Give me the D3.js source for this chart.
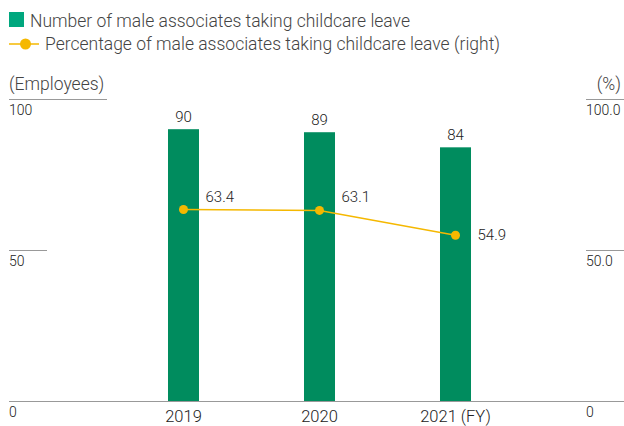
<!DOCTYPE html>
<html>
<head>
<meta charset="utf-8">
<script src="https://cdn.jsdelivr.net/npm/d3@7"></script>
<style>
  html, body { margin: 0; padding: 0; background: #fff; }
  svg { display: block; font-family: Roboto, "Noto Sans", sans-serif; }
</style>
</head>
<body>
<svg id="chart" width="624" height="426"></svg>
<script>
// Fiscal years shown on the x axis
const years = ["2019", "2020", "2021 (FY)"];
// Number of male associates taking childcare leave (left axis, employees)
const leaveCounts = [90, 89, 84];
// Percentage of male associates taking childcare leave (right axis, %)
const leaveRates = [63.4, 63.1, 54.9];
// Axis tick labels
const leftTicks = [0, 50, 100];
const rightTicks = [0, 50, 100];

const barColor = "#008c5e";
const legendBarColor = "#00a77e";
const lineColor = "#f5b800";
const textColor = "#222";
const legendText = "#444";
const ruleColor = "#999";
const weight = 300;

const svg = d3.select("#chart");
const W = 624;

const y = d3.scaleLinear().domain([0, 100]).range([401, 99]);
const yR = d3.scaleLinear().domain([0, 100]).range([401, 99]);
const x = d3.scaleBand().domain(years).range([115.5, 523.5])
  .paddingInner(0.772).paddingOuter(0.386);

// Legend
const lg = svg.append("g");
lg.append("rect").attr("x", 9).attr("y", 12).attr("width", 15).attr("height", 15)
  .attr("fill", legendBarColor);
lg.append("text").attr("x", 30).attr("y", 27).attr("font-size", 17.5)
  .attr("fill", legendText).attr("font-weight", weight)
  .text("Number of male associates taking childcare leave");
lg.append("line").attr("x1", 9).attr("x2", 39).attr("y1", 44).attr("y2", 44)
  .attr("stroke", lineColor).attr("stroke-width", 1.5);
lg.append("circle").attr("cx", 25.5).attr("cy", 44).attr("r", 5.5).attr("fill", lineColor);
lg.append("text").attr("x", 45).attr("y", 50).attr("font-size", 17.5)
  .attr("fill", legendText).attr("font-weight", weight)
  .text("Percentage of male associates taking childcare leave (right)");

// Axis unit titles
svg.append("text").attr("x", 9).attr("y", 89.5).attr("font-size", 17.5)
  .attr("fill", legendText).attr("font-weight", weight).text("(Employees)");
svg.append("text").attr("x", 621).attr("y", 89.5).attr("font-size", 17.5)
  .attr("text-anchor", "end").attr("fill", legendText).attr("font-weight", weight).text("(%)");

// Left axis: short rules above each tick label
const leftAxis = svg.append("g");
leftTicks.forEach(t => {
  const yy = Math.round(y(t)) + 0.5;
  const x2 = t === 0 ? W : (t === 100 ? 107 : 47);
  leftAxis.append("line").attr("x1", 9).attr("x2", x2).attr("y1", yy).attr("y2", yy)
    .attr("stroke", ruleColor).attr("stroke-width", 1);
  leftAxis.append("text").attr("x", 9).attr("y", y(t) + 15.5).attr("font-size", 14)
    .attr("fill", textColor).attr("font-weight", weight).text(d3.format("d")(t));
});

// Right axis
const rightAxis = svg.append("g");
rightTicks.forEach(t => {
  const yy = Math.round(yR(t)) + 0.5;
  if (t !== 0) {
    rightAxis.append("line").attr("x1", 586).attr("x2", W).attr("y1", yy).attr("y2", yy)
      .attr("stroke", ruleColor).attr("stroke-width", 1);
  }
  rightAxis.append("text").attr("x", 586).attr("y", yR(t) + 15.5).attr("font-size", 14)
    .attr("fill", textColor).attr("font-weight", weight)
    .text(t === 0 ? "0" : d3.format(".1f")(t));
});

// Bars
svg.append("g").selectAll("rect").data(leaveCounts).join("rect")
  .attr("x", (d, i) => x(years[i]))
  .attr("y", d => y(d))
  .attr("width", x.bandwidth())
  .attr("height", d => y(0) - y(d))
  .attr("fill", barColor);

// Bar value labels
svg.append("g").selectAll("text").data(leaveCounts).join("text")
  .attr("x", (d, i) => x(years[i]) + x.bandwidth() / 2)
  .attr("y", d => y(d) - 7.5)
  .attr("text-anchor", "middle").attr("font-size", 15)
  .attr("fill", textColor).attr("font-weight", weight)
  .text(d => d);

// Percentage line
const cx = i => x(years[i]) + x.bandwidth() / 2;
const line = d3.line().x((d, i) => cx(i)).y(d => yR(d));
svg.append("path").datum(leaveRates).attr("d", line)
  .attr("fill", "none").attr("stroke", lineColor).attr("stroke-width", 1.5);
svg.append("g").selectAll("circle").data(leaveRates).join("circle")
  .attr("cx", (d, i) => cx(i)).attr("cy", d => yR(d)).attr("r", 4.5)
  .attr("fill", lineColor);

// Percentage labels, placed to the right of each point
const rateLabelDy = [-8, -8, 5];
svg.append("g").selectAll("text").data(leaveRates).join("text")
  .attr("x", (d, i) => cx(i) + 22)
  .attr("y", (d, i) => yR(d) + rateLabelDy[i])
  .attr("font-size", 15).attr("fill", textColor).attr("font-weight", weight)
  .text(d => d3.format(".1f")(d));

// X axis labels
svg.append("g").selectAll("text").data(years).join("text")
  .attr("x", d => x(d) + x.bandwidth() / 2)
  .attr("y", 422)
  .attr("text-anchor", "middle").attr("font-size", 16.5)
  .attr("fill", textColor).attr("font-weight", weight)
  .text(d => d);
</script>
</body>
</html>
